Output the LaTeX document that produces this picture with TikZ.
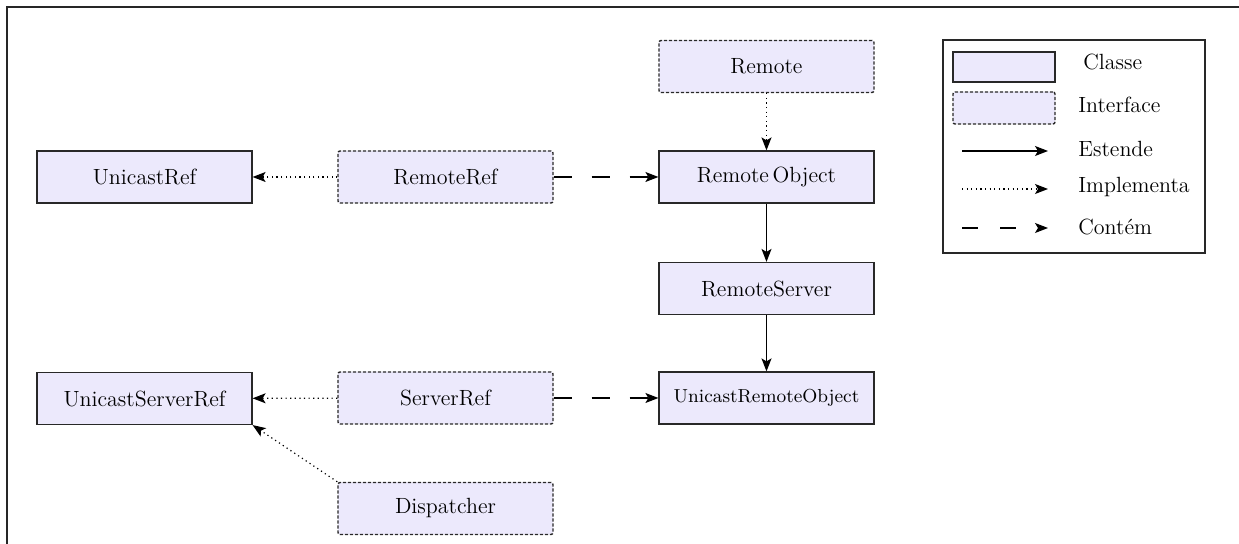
\documentclass[tikz,border=0pt]{standalone}
\usetikzlibrary{arrows.meta}
\definecolor{boxfill}{RGB}{236,233,252}
\definecolor{boxline}{RGB}{40,40,40}
\begin{document}
\begin{tikzpicture}[x=0.5pt,y=-0.5pt,
  font=\fontsize{11}{13}\selectfont,
  base/.style={fill=boxfill,draw=boxline,minimum width=107.5pt,minimum height=26pt,inner sep=0pt,anchor=center},
  classbox/.style={base,line width=0.6pt},
  ifacebox/.style={base,line width=0.7pt,dash pattern=on 1.6pt off 0.9pt,rounded corners=1pt},
  tip/.style={-{Stealth[length=6.5pt,width=5pt,inset=1.5pt]}},
  extends/.style={tip,line width=0.6pt},
  implements/.style={tip,line width=0.6pt,dash pattern=on 0.6pt off 1.7pt},
  contains/.style={tip,line width=0.6pt,dash pattern=on 9pt off 10pt},
  legtext/.style={anchor=west,inner sep=0pt}]
\useasboundingbox (0,0) rectangle (1239,544);
% outer frame (left and top edges)
\draw[line width=1pt,black!85] (7,560) -- (7,7) -- (1250,7);

% classes and interfaces
\node[classbox] (unicastref) at (144.5,177) {UnicastRef};
\node[ifacebox] (remoteref) at (445.5,177) {RemoteRef};
\node[ifacebox] (remote) at (766.5,66.5) {Remote};
\node[classbox] (remoteobject) at (766.5,177) {Remote\,Object};
\node[classbox] (remoteserver) at (766.5,288.5) {RemoteServer};
\node[classbox] (unicastremoteobject) at (766.5,398) {\fontsize{9.4}{11}\selectfont UnicastRemoteObject};
\node[classbox] (unicastserverref) at (144.5,398.5) {UnicastServerRef};
\node[ifacebox] (serverref) at (445.5,398) {ServerRef};
\node[ifacebox] (dispatcher) at (445.5,508.5) {Dispatcher};

% relations
\draw[implements] (remoteref) -- (unicastref);
\draw[contains] (remoteref) -- (remoteobject);
\draw[implements] (remote) -- (remoteobject);
\draw[extends] (remoteobject) -- (remoteserver);
\draw[extends] (remoteserver) -- (unicastremoteobject);
\draw[implements] (serverref) -- (unicastserverref);
\draw[contains] (serverref) -- (unicastremoteobject);
\draw[implements] (dispatcher.north west) -- (unicastserverref.south east);

% legend
\node[draw=boxline,line width=0.6pt,minimum width=131pt,minimum height=106.5pt,inner sep=0pt] (legend) at (1074,146.5) {};
\node[classbox,minimum width=51pt,minimum height=15pt] (legclass) at (1004,67) {};
\node[ifacebox,minimum width=51pt,minimum height=16pt] (legiface) at (1004,108) {};
\node[legtext] (tclass) at (1083,62) {Classe};
\node[legtext] (tiface) at (1078,105) {Interface};
\coordinate (e1) at (962,151); \coordinate (e2) at (1048,151);
\coordinate (i1) at (962,189); \coordinate (i2) at (1048,189);
\coordinate (c1) at (962,228); \coordinate (c2) at (1048,228);
\draw[extends] (e1) -- (e2);
\draw[implements] (i1) -- (i2);
\draw[tip,line width=0.6pt,dash pattern=on 8pt off 11pt] (c1) -- (c2);
\node[legtext] (text) at (1078,149) {Estende};
\node[legtext] (timpl) at (1078,187) {Implementa};
\node[legtext] (tcont) at (1078,227) {Contém};
\end{tikzpicture}
\end{document}
